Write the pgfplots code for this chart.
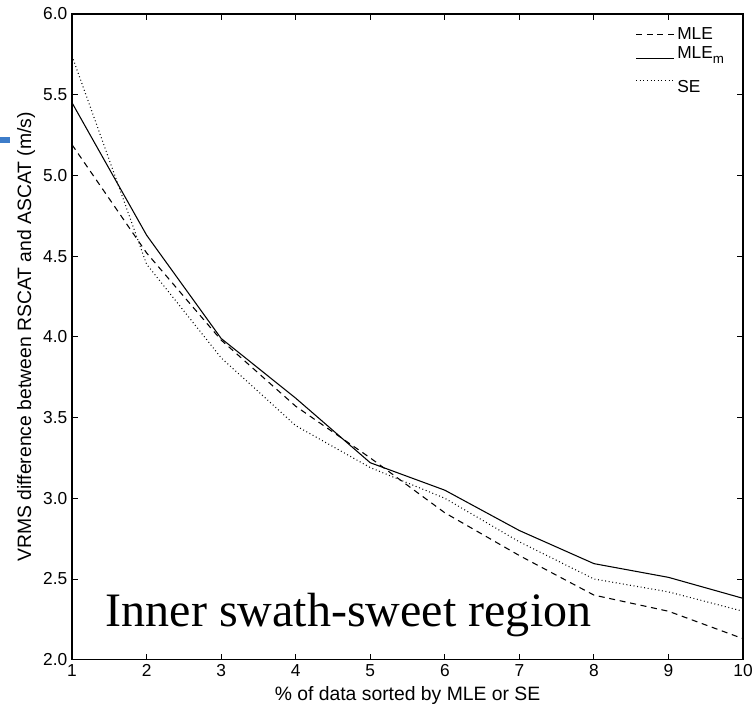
\documentclass[border=0pt]{standalone}
\usepackage{pgfplots}
\pgfplotsset{compat=1.18}
\usepackage{fontspec}
\setmainfont{Liberation Sans}
\newfontfamily\timesfont{Liberation Serif}
\definecolor{artblue}{HTML}{3D7CC9}
\begin{document}
\begin{tikzpicture}
\begin{axis}[
 scale only axis, width=503pt, height=484pt,
 xmin=1, xmax=10, ymin=2, ymax=6,
 xtick={1,2,...,10}, ytick={2,2.5,...,6},
 tick align=inside, major tick length=4.5pt,
 /pgf/number format/assume math mode=true,
 yticklabel style={/pgf/number format/.cd, fixed, fixed zerofill, precision=1},
 tick label style={font=\fontsize{13}{15}\selectfont},
 label style={font=\fontsize{14.5}{17}\selectfont},
 xlabel={\% of data sorted by MLE or SE},
 ylabel={VRMS difference between RSCAT and ASCAT (m/s)},
 xlabel style={at={(axis description cs:0.5,-0.0636)}, anchor=base},
 ylabel style={at={(axis description cs:-0.0686,0.5)}, anchor=center},
 axis line style={line width=0.9pt},
 every tick/.style={black, line width=0.7pt},
 legend style={draw=none, fill=none, at={(axis description cs:0.982,0.988)}, anchor=north east,
   font=\fontsize{13}{15}\selectfont, row sep=0pt},
 legend cell align=left,
 legend image code/.code={\draw[#1] (0cm,0cm) -- (1cm,0cm);},
]
\addplot[black, line width=0.8pt, dash pattern=on 4.5pt off 3.5pt] coordinates {
(1,5.19) (2,4.52) (3,3.98) (4,3.57) (5,3.25) (6,2.91) (7,2.645) (8,2.40) (9,2.30) (10,2.13)};
\addlegendentry{MLE}
\addplot[black, line width=0.8pt, legend image post style={yshift=-4pt}] coordinates {
(1,5.45) (2,4.63) (3,3.99) (4,3.62) (5,3.22) (6,3.05) (7,2.80) (8,2.595) (9,2.51) (10,2.38)};
\addlegendentry{MLE\raisebox{-0.55ex}{\fontsize{10}{11}\selectfont m}}
\addplot[black, line width=0.8pt, dash pattern=on 0.7pt off 2pt] coordinates {
(1,5.74) (2,4.45) (3,3.87) (4,3.45) (5,3.19) (6,3.00) (7,2.73) (8,2.50) (9,2.42) (10,2.30)};
\addlegendentry{\rule{0pt}{20pt}SE}
\node[anchor=base, font=\timesfont\fontsize{36}{40}\selectfont, inner sep=0pt] at (axis cs:4.71,2.205) {Inner swath-sweet region};
\end{axis}
\fill[artblue] (-54pt,387pt) rectangle (-46.5pt,391.5pt);
\pgfresetboundingbox
\path (-54pt,-35.2pt) rectangle (511.2pt,494.5pt);
\end{tikzpicture}
\end{document}
